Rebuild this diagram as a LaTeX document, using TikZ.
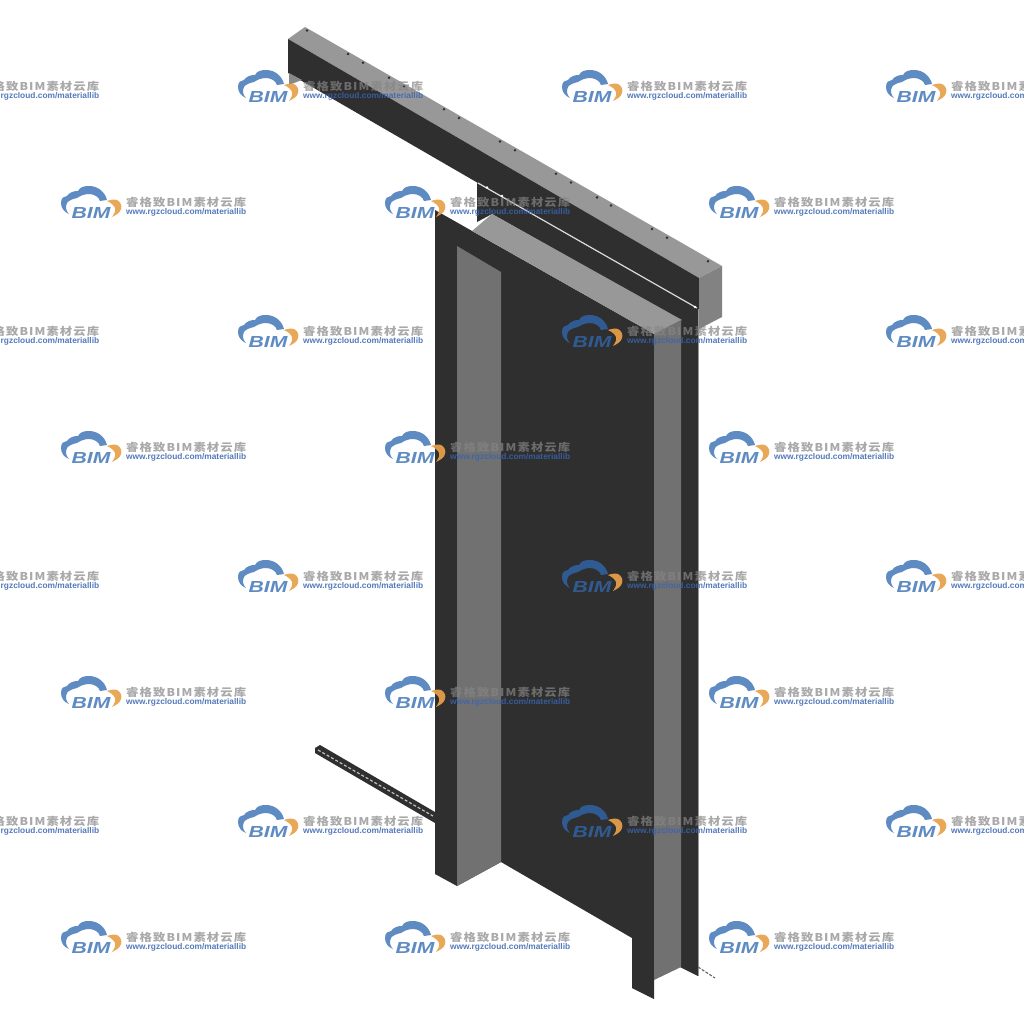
\documentclass[tikz,border=0pt]{standalone}
\usepackage{fontspec}
\usepackage{graphicx}
\setmainfont{Liberation Sans}
\newfontfamily\wmcjk[LetterSpace=9]{Noto Sans CJK SC}
\definecolor{darkface}{HTML}{2F2F2F}
\definecolor{midface}{HTML}{717171}
\definecolor{topface}{HTML}{989898}
\definecolor{endface}{HTML}{828282}
\definecolor{cloudblue}{RGB}{47,105,177}
\definecolor{urlblue}{RGB}{57,100,175}
\definecolor{wmorange}{HTML}{E8A04A}
\definecolor{wmgray}{RGB}{133,133,133}
\tikzset{
  darkpart/.style={fill=darkface},
  midpart/.style={fill=midface},
  toppart/.style={fill=topface},
  endpart/.style={fill=endface},
  boltdot/.style={fill=darkface,draw=none},
  wm/.pic={
    \fill[cloudblue,opacity=.77] (8,28) .. controls (3,26) and (0,22) .. (0,17)
      .. controls (0,12) and (3,10) .. (6,10)
      .. controls (9,6) and (13,5) .. (17,5)
      .. controls (19,1) and (23,0) .. (28,0)
      .. controls (37,0) and (44,6) .. (46,14)
      -- (39,15) .. controls (38,11) and (33,8) .. (28,8)
      .. controls (23,8) and (19,10) .. (16,12)
      .. controls (11,13) and (7,15) .. (6,17)
      .. controls (4,21) and (5,25) .. (8,28) -- cycle;
    \fill[wmorange,opacity=.92] (46,15) .. controls (49,14) and (53,13) .. (56,14)
      .. controls (60,16) and (61,20) .. (60,23)
      .. controls (59,27) and (55,29) .. (51,31)
      .. controls (53,28) and (55,25) .. (54,22)
      .. controls (53,19) and (50,17) .. (46,15) -- cycle;
    \node[text=cloudblue,opacity=.77,inner sep=0pt,anchor=center] (bim) at (30,26.5)
      {\fontsize{16}{16}\selectfont\scalebox{1.32}[1]{\bfseries\itshape BIM}};
    \node[text=wmgray,opacity=.7,inner sep=0pt,anchor=west] (cn) at (65,16.5)
      {\resizebox{120pt}{9.3pt}{\wmcjk\bfseries 睿格致BIM素材云库}};
    \node[text=urlblue,opacity=.86,inner sep=0pt,anchor=west] (url) at (65,26)
      {\resizebox{120pt}{!}{\bfseries www.rgzcloud.com/materiallib}};
  }
}
\begin{document}
\begin{tikzpicture}[x=1pt,y=-1pt]
\useasboundingbox (0,0) rectangle (1024,1024);
\clip (0,0) rectangle (1024,1024);
\fill[white] (0,0) rectangle (1024,1024);
% beam
\fill[toppart] (288,39) -- (305,27) -- (722,266) -- (699,278) -- cycle;
\fill[darkpart] (288,39) -- (699,278) -- (699,310) -- (478,183) -- (288,73) -- cycle;
\fill[fill=topface!90!black] (289,73) -- (289,85) -- (302,80) -- cycle;
\fill[endpart] (699,278) -- (722,266) -- (722,317) -- (699,329) -- cycle;
% bolt dots on the beam
\foreach \bx in {307,348,363,389,404,444,459,500,515,556,571,597,611,652,667,708}
  \fill[boltdot] (\bx,{30.5+(\bx-307)*0.5755}) circle (1.4);
% back strip
\fill[darkpart] (477,183) -- (698,309) -- (698,976) -- (680,967) -- (680,320) -- (492,214) -- (477,222) -- cycle;
\draw[white!85!black,line width=1.2pt] (478,183) -- (697,308);
\foreach \bx/\by in {487/187.5,502/196,695/307}
  \fill[white] (\bx,\by) circle (1.4);
\draw[topface,line width=1pt] (698,309) -- (698,976);
% main plate
\fill[darkpart] (435,210) -- (654,334) -- (654,999) -- (632,988) -- (632,938) -- (501,862) -- (457,886) -- (435,874) -- cycle;
% slab top
\fill[toppart] (472,231) -- (492,214) -- (682,320) -- (654,334) -- cycle;
% columns
\fill[midpart] (457,246) -- (501,272) -- (501,862) -- (457,886) -- cycle;
\fill[midpart] (654,334) -- (681,320) -- (681,967) -- (654,980) -- cycle;
\fill[darkface] (630.5,676.5) circle (1);
% bar at lower left
\fill[darkpart] (315,753) -- (315,748) -- (320,745) -- (435,812) -- (435,823) -- cycle;
\draw[white!75!black,line width=1.2pt,dash pattern=on 3pt off 2pt] (318,750) -- (433,816);
% foot at right
\draw[darkface!75!white,line width=1.1pt,dash pattern=on 3pt off 1.5pt] (698,967) -- (715,978);
% watermark
\foreach \wy in {70,315,560,805}
  \foreach \wx in {-86,238,562,886}
    \pic at (\wx,\wy) {wm};
\foreach \wy in {186,431,676,921}
  \foreach \wx in {61,385,709}
    \pic at (\wx,\wy) {wm};
\end{tikzpicture}
\end{document}
